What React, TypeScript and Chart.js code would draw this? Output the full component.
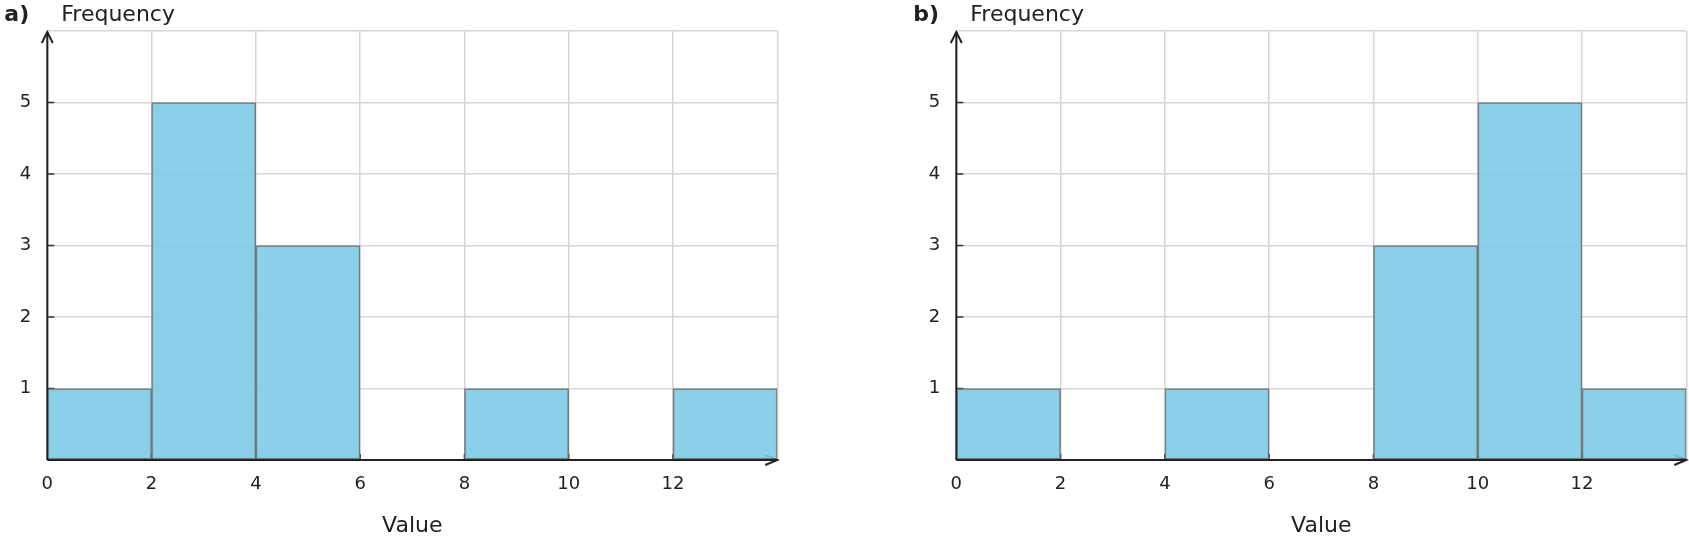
import React, { useEffect, useRef } from 'react';
import { Chart, registerables } from 'chart.js';

Chart.register(...registerables);

const binEdges = [0, 2, 4, 6, 8, 10, 12, 14];
const freqA = [1, 5, 3, 0, 1, 0, 1];
const freqB = [1, 0, 1, 0, 3, 5, 1];
const yTicks = [1, 2, 3, 4, 5];
const xTickLabels = ['0', '2', '4', '6', '8', '10', '12'];

const FONT = "'DejaVu Sans', sans-serif";
const INK = '#222222';

const axesPlugin = (label: string) => ({
  id: 'histAxes',
  beforeDatasetsDraw(chart: any) {
    const { ctx, chartArea, scales } = chart;
    const { left, right, bottom } = chartArea;
    ctx.save();
    ctx.strokeStyle = '#333333';
    ctx.lineWidth = 1.5;
    // inward ticks
    yTicks.forEach((v) => {
      const y = scales.y.getPixelForValue(v);
      ctx.beginPath();
      ctx.moveTo(left, y);
      ctx.lineTo(left + 7, y);
      ctx.stroke();
    });
    binEdges.slice(1, -1).forEach((v) => {
      const x = scales.x.getPixelForValue(v);
      ctx.beginPath();
      ctx.moveTo(x, bottom);
      ctx.lineTo(x, bottom - 6);
      ctx.stroke();
    });
    // x arrow head
    ctx.lineWidth = 2;
    ctx.strokeStyle = INK;
    ctx.beginPath();
    ctx.moveTo(right - 12, bottom - 5);
    ctx.lineTo(right, bottom);
    ctx.lineTo(right - 12, bottom + 5);
    ctx.stroke();
    ctx.restore();
  },
  afterDatasetsDraw(chart: any) {
    const { ctx, chartArea } = chart;
    const { left, right, top, bottom } = chartArea;
    ctx.save();
    ctx.strokeStyle = INK;
    ctx.lineWidth = 2;
    ctx.beginPath();
    ctx.moveTo(left, bottom);
    ctx.lineTo(right, bottom);
    ctx.stroke();
    ctx.beginPath();
    ctx.moveTo(left, bottom);
    ctx.lineTo(left, top + 1);
    ctx.stroke();
    ctx.beginPath();
    ctx.moveTo(left - 5.5, top + 12);
    ctx.lineTo(left, top + 1);
    ctx.lineTo(left + 5.5, top + 12);
    ctx.stroke();
    // titles
    ctx.fillStyle = INK;
    ctx.textBaseline = 'alphabetic';
    ctx.textAlign = 'left';
    ctx.font = `bold 22px ${FONT}`;
    ctx.fillText(label, left - 43, 21);
    ctx.font = `22px ${FONT}`;
    ctx.fillText('Frequency', left + 14, 21);
    ctx.restore();
  },
});

const PANEL_W = 909;

const Histogram = ({ values, label, left }: { values: number[]; label: string; left: number }) => {
  const chartRef = useRef<HTMLCanvasElement | null>(null);

  useEffect(() => {
    if (!chartRef.current) return;
    const points = values.map((v, i) => ({ x: (binEdges[i] + binEdges[i + 1]) / 2, y: v }));
    const myChart = new Chart(chartRef.current, {
      type: 'bar',
      data: {
        datasets: [
          {
            data: points,
            backgroundColor: 'rgba(125, 203, 230, 0.9)',
            borderColor: 'rgba(110, 110, 110, 0.9)',
            borderWidth: 1.5,
            borderSkipped: false,
            barPercentage: 1,
            categoryPercentage: 1,
          },
        ],
      },
      options: {
        responsive: false,
        animation: false,
        layout: { padding: { left: 0, top: 31, right: PANEL_W - 777.3, bottom: 0 } },
        plugins: { legend: { display: false }, tooltip: { enabled: false } },
        scales: {
          x: {
            type: 'linear',
            min: 0,
            max: 14,
            offset: false,
            grid: { color: '#d6d6d6', lineWidth: 1.5, drawTicks: false, offset: false },
            border: { display: false },
            ticks: {
              stepSize: 2,
              padding: 14,
              color: INK,
              font: { family: FONT, size: 18 },
              maxRotation: 0,
              callback: (v: any) => (xTickLabels.includes(String(v)) ? String(v) : ''),
            },
            title: {
              display: true,
              text: 'Value',
              color: INK,
              font: { family: FONT, size: 22 },
              padding: { top: 4, bottom: 2 },
            },
            afterFit: (scale: any) => {
              scale.height = 81;
            },
          },
          y: {
            min: 0,
            max: 6,
            grid: { color: '#d6d6d6', lineWidth: 1.5, drawTicks: false },
            border: { display: false },
            ticks: {
              stepSize: 1,
              padding: 16,
              color: INK,
              font: { family: FONT, size: 18 },
              callback: (v: any) => (yTicks.includes(Number(v)) ? String(v) : ''),
            },
            afterFit: (scale: any) => {
              scale.width = 47.3;
            },
          },
        },
      },
      plugins: [axesPlugin(label)],
    });
    return () => {
      myChart.destroy();
    };
  }, [values, label]);

  return (
    <canvas
      ref={chartRef}
      width={PANEL_W}
      height={541}
      style={{ position: 'absolute', left, top: 0, width: PANEL_W, height: 541 }}
    />
  );
};

const App = () => {
  useEffect(() => {
    document.body.style.margin = '0';
  }, []);
  return (
    <div style={{ position: 'relative', width: 1689, height: 541, background: '#fff', overflow: 'hidden' }}>
      <Histogram values={freqA} label="a)" left={0} />
      <Histogram values={freqB} label="b)" left={909} />
    </div>
  );
};

export default App;
